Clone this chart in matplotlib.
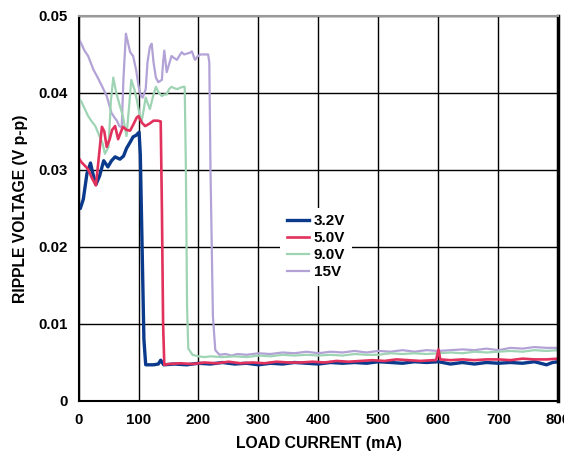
import matplotlib
matplotlib.use('Agg')
import matplotlib.pyplot as plt

plt.rcParams['font.family'] = ['Liberation Sans', 'DejaVu Sans']
plt.rcParams['font.weight'] = 'bold'

# 3.2V
x_32 = [0, 3, 8, 14, 20, 24, 29, 35, 42, 49, 55, 61, 69, 75, 80, 86, 91, 96, 101, 103, 106, 109, 112,
        125, 133, 137, 142, 160, 180, 200, 220, 240, 260, 280, 300, 320, 340, 360, 380, 400, 420, 440,
        460, 480, 500, 520, 540, 560, 580, 600, 620, 640, 660, 680, 700, 720, 740, 760, 780, 790, 800]
y_32 = [0.0251, 0.0250, 0.0262, 0.0295, 0.0309, 0.0295, 0.0281, 0.0292, 0.0312, 0.0304, 0.0312, 0.0317,
        0.0314, 0.0318, 0.0328, 0.0336, 0.0343, 0.0345, 0.0349, 0.0320, 0.0200, 0.0080, 0.0047,
        0.0047, 0.0048, 0.0053, 0.0047, 0.0048, 0.0047, 0.0049, 0.0048, 0.0050, 0.0048, 0.0049, 0.0047,
        0.0049, 0.0048, 0.0050, 0.0049, 0.0048, 0.0050, 0.0049, 0.0050, 0.0049, 0.0051, 0.0050, 0.0049,
        0.0051, 0.0050, 0.0051, 0.0048, 0.0050, 0.0048, 0.0050, 0.0049, 0.0050, 0.0049, 0.0051, 0.0047,
        0.0050, 0.0051]

# 5.0V
x_50 = [0, 5, 10, 16, 22, 29, 33, 39, 43, 47, 52, 56, 61, 66, 70, 74, 80, 86, 92, 97, 100, 105, 111,
        118, 125, 132, 137, 139, 141, 143, 150, 170, 190, 210, 230, 250, 270, 290, 310, 330, 350, 370,
        390, 410, 430, 450, 470, 490, 510, 530, 550, 570, 590, 596, 600, 603, 620, 640, 660, 680, 700,
        720, 740, 760, 780, 800]
y_50 = [0.0316, 0.0310, 0.0306, 0.0301, 0.0290, 0.0280, 0.0310, 0.0356, 0.0350, 0.0330, 0.0340, 0.0352,
        0.0357, 0.0340, 0.0348, 0.0356, 0.0352, 0.0351, 0.0360, 0.0368, 0.0370, 0.0362, 0.0357, 0.0360,
        0.0364, 0.0364, 0.0363, 0.0250, 0.0100, 0.0047, 0.0048, 0.0049, 0.0048, 0.0050, 0.0049, 0.0051,
        0.0049, 0.0050, 0.0049, 0.0051, 0.0050, 0.0050, 0.0051, 0.0050, 0.0052, 0.0051, 0.0052, 0.0053,
        0.0052, 0.0054, 0.0053, 0.0052, 0.0053, 0.0053, 0.0067, 0.0054, 0.0053, 0.0054, 0.0053, 0.0054,
        0.0054, 0.0053, 0.0055, 0.0054, 0.0054, 0.0055]

# 9.0V
x_90 = [0, 4, 10, 16, 22, 28, 36, 40, 44, 50, 54, 58, 63, 69, 74, 80, 84, 88, 93, 97, 101, 105, 109,
        112, 116, 119, 124, 129, 134, 139, 143, 147, 151, 155, 160, 165, 170, 175, 177, 179, 181, 183,
        190, 200, 210, 220, 240, 260, 280, 300, 320, 340, 360, 380, 400, 420, 440, 460, 480, 500, 520,
        540, 560, 580, 600, 620, 640, 660, 680, 700, 720, 740, 760, 780, 800]
y_90 = [0.0392, 0.0390, 0.0380, 0.0370, 0.0363, 0.0357, 0.0342, 0.0335, 0.0321, 0.0330, 0.0390, 0.0420,
        0.0400, 0.0383, 0.0370, 0.0344, 0.0380, 0.0417, 0.0405, 0.0392, 0.0375, 0.0362, 0.0380, 0.0394,
        0.0385, 0.0379, 0.0395, 0.0408, 0.0400, 0.0396, 0.0398, 0.0398, 0.0405, 0.0408, 0.0406, 0.0405,
        0.0407, 0.0408, 0.0408, 0.0300, 0.0120, 0.0068, 0.0060, 0.0058, 0.0057, 0.0058, 0.0057, 0.0058,
        0.0057, 0.0059, 0.0058, 0.0060, 0.0059, 0.0060, 0.0059, 0.0060, 0.0059, 0.0061, 0.0060, 0.0060,
        0.0062, 0.0061, 0.0062, 0.0061, 0.0062, 0.0063, 0.0062, 0.0064, 0.0063, 0.0064, 0.0065, 0.0064,
        0.0066, 0.0065, 0.0066]

# 15V
x_15 = [0, 4, 10, 16, 20, 25, 32, 39, 47, 55, 60, 64, 68, 72, 75, 79, 86, 91, 96, 100, 104, 107, 112,
        115, 119, 122, 125, 129, 133, 139, 141, 143, 147, 152, 155, 160, 164, 168, 172, 176, 180, 185,
        189, 194, 198, 203, 210, 216, 218, 220, 224, 228, 235, 245, 255, 265, 280, 300, 320, 340, 360,
        380, 400, 420, 440, 460, 480, 500, 520, 540, 560, 580, 600, 620, 640, 660, 680, 700, 720, 740,
        760, 780, 800]
y_15 = [0.0471, 0.0465, 0.0455, 0.0448, 0.0440, 0.0430, 0.0420, 0.0409, 0.0396, 0.0374, 0.0368, 0.0364,
        0.0357, 0.0355, 0.0420, 0.0477, 0.0453, 0.0448, 0.0430, 0.0409, 0.0396, 0.0394, 0.0405, 0.0440,
        0.0460, 0.0464, 0.0440, 0.0420, 0.0414, 0.0417, 0.0440, 0.0455, 0.0427, 0.0440, 0.0448, 0.0445,
        0.0443, 0.0448, 0.0453, 0.0450, 0.0451, 0.0452, 0.0454, 0.0443, 0.0447, 0.0450, 0.0450, 0.0450,
        0.0440, 0.0300, 0.0110, 0.0066, 0.0060, 0.0061, 0.0059, 0.0061, 0.0060, 0.0062, 0.0061, 0.0063,
        0.0062, 0.0064, 0.0062, 0.0064, 0.0063, 0.0065, 0.0063, 0.0065, 0.0064, 0.0066, 0.0064, 0.0066,
        0.0065, 0.0066, 0.0067, 0.0066, 0.0068, 0.0066, 0.0069, 0.0068, 0.0070, 0.0069, 0.0069]

labels = ['3.2V', '5.0V', '9.0V', '15V']
colors = ['#0b3a8c', '#e2315c', '#9ed4b4', '#b2a2d6']
widths = [2.4, 1.9, 1.6, 1.6]

fig = plt.figure(figsize=(5.64, 4.53), dpi=100)
ax = fig.add_axes([0.1392, 0.1148, 0.851, 0.850])

series = [(x_15, y_15), (x_90, y_90), (x_32, y_32), (x_50, y_50)]
order = [3, 2, 0, 1]
handles = {}
for (xs, ys), i in zip(series, order):
    ln, = ax.plot(xs, ys, color=colors[i], lw=widths[i], label=labels[i], solid_joinstyle='round')
    handles[i] = ln

ax.set_xlim(0, 800)
ax.set_ylim(0, 0.05)
ax.set_xticks(range(0, 801, 100))
ax.set_yticks([0, 0.01, 0.02, 0.03, 0.04, 0.05])
ax.set_yticklabels(['0', '0.01', '0.02', '0.03', '0.04', '0.05'])
ax.grid(True, color='black', lw=1.0)
ax.set_axisbelow(True)
ax.tick_params(length=0, labelsize=10.8)
ax.tick_params(axis='x', pad=9)
ax.tick_params(axis='y', pad=7.5)
for lab in ax.get_xticklabels() + ax.get_yticklabels():
    lab.set_fontweight('bold')

ax.spines['top'].set_color('#999999')
ax.spines['top'].set_linewidth(1.5)
ax.spines['right'].set_linewidth(2.5)
ax.spines['left'].set_linewidth(1.5)
ax.spines['bottom'].set_linewidth(1.5)

ax.set_xlabel('LOAD CURRENT (mA)', fontsize=11.3, fontweight='bold', labelpad=6)
ax.set_ylabel('RIPPLE VOLTAGE (V p-p)', fontsize=11.3, fontweight='bold', labelpad=8)

leg = ax.legend([handles[i] for i in range(4)], labels, loc='upper left',
                bbox_to_anchor=(0.42, 0.5025), frameon=True, fancybox=False,
                edgecolor='none', facecolor='white', framealpha=1,
                handlelength=1.45, handletextpad=0.3, labelspacing=0.19,
                borderpad=0.45, borderaxespad=0, prop={'weight': 'bold', 'size': 11})

fig.savefig('out.png', dpi=100)
